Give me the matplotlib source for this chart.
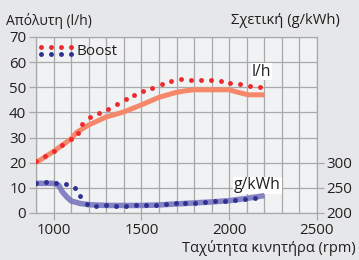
import numpy as np
import matplotlib
matplotlib.use('Agg')
import matplotlib.pyplot as plt

plt.rcParams['font.family'] = ['Open Sans', 'DejaVu Sans']

# standard engine, l/h (left axis)
std_rpm = [900, 1000, 1100, 1130, 1200, 1300, 1400, 1500, 1600, 1700, 1750, 1800, 1900, 2000, 2050, 2110, 2200]
std_lh = [20, 24.5, 29.5, 32, 35, 38.2, 40.2, 43, 46, 48, 48.6, 49, 49, 49, 48, 47, 47]

# boost engine, l/h (dots)
boost_rpm = [900, 950, 1000, 1050, 1100, 1140, 1164, 1206, 1257, 1310, 1359, 1410, 1460, 1511, 1562,
             1615, 1670, 1725, 1781, 1838, 1894, 1951, 2007, 2064, 2121, 2178]
boost_lh = [20.8, 22.8, 24.8, 27, 29.3, 32, 35.4, 38.3, 39.7, 41.4, 43.4, 45.3, 46.8, 48.5, 49.8,
            51.4, 52.6, 53.2, 52.9, 52.9, 52.9, 52.5, 51.8, 51.3, 50.6, 50]

# standard engine, g/kWh (right axis)
std_sfc_rpm = [900, 1000, 1030, 1050, 1075, 1100, 1150, 1200, 1300, 1400, 1500, 1600, 1700, 1800, 1900, 2000, 2100, 2200]
std_sfc = [259, 259, 255, 242, 232, 224, 219, 216.5, 215, 215, 215, 216, 218, 220, 222, 224.5, 229, 234.5]

# boost engine, g/kWh (dots)
boost_sfc_rpm = [900, 957, 1013, 1070, 1121, 1153, 1191, 1243, 1300, 1357, 1413, 1470, 1527, 1583,
                 1640, 1696, 1749, 1806, 1862, 1919, 1975, 2032, 2089, 2145]
boost_sfc = [260.5, 261, 260, 257.5, 249, 233, 218, 213.5, 215, 214.5, 214.5, 215, 215, 215,
             218, 220.5, 219, 220.5, 222.5, 224, 224.5, 225, 228.5, 230.5]

txt = '#231f20'

fig = plt.figure(figsize=(3.59, 2.60), dpi=100)
fig.patch.set_facecolor('#e6e7e9')
ax = fig.add_axes([0.1003, 0.1808, 0.7827, 0.6769])
ax.set_facecolor('#f1f2f4')
ax2 = ax.twinx()

gridc = '#a9a9a9'
ax.set_xlim(900, 2500)
ax.set_ylim(0, 70)
ax.set_xticks([1000, 1500, 2000, 2500])
ax.set_xticks(np.arange(900, 2501, 100), minor=True)
ax.set_yticks(np.arange(0, 71, 10))
ax.grid(True, which='both', axis='x', color=gridc, lw=0.9)
ax.grid(True, which='major', axis='y', color=gridc, lw=0.9)
ax.set_axisbelow(True)
ax.tick_params(which='minor', length=0)
ax.tick_params(which='major', length=5, width=0.9, color=gridc, labelsize=10.8,
               labelcolor=txt, pad=2)
for s in ax.spines.values():
    s.set_color(gridc)
    s.set_linewidth(0.9)

ax2.set_ylim(200, 550)
ax2.set_yticks([200, 250, 300])
ax2.tick_params(length=5, width=0.9, color=gridc, labelsize=10.8, labelcolor=txt, pad=2)
for s in ax2.spines.values():
    s.set_visible(False)

# lines
ax.plot(std_rpm, std_lh, color='#f5876a', lw=3.6, solid_capstyle='butt', zorder=3)
ax.plot(boost_rpm, boost_lh, 'o', color='#ee2a2e', ms=3.5, mew=0, zorder=4)
ax2.plot(std_sfc_rpm, std_sfc, color='#7470bd', lw=4.0, alpha=0.85, solid_capstyle='butt', zorder=3)
ax2.plot(boost_sfc_rpm, boost_sfc, 'o', color='#2e3192', ms=3.5, mew=0, zorder=4)

# legend (manual)
leg_x = [0.018, 0.053, 0.089, 0.125]
ax.plot(leg_x, [0.941] * 4, 'o', color='#ee2a2e', ms=3.5, mew=0,
        transform=ax.transAxes, clip_on=False)
ax.plot(leg_x, [0.902] * 4, 'o', color='#2e3192', ms=3.5, mew=0,
        transform=ax.transAxes, clip_on=False)
ax.text(0.143, 0.92, 'Boost', transform=ax.transAxes, fontsize=11, va='center',
        ha='left', color=txt)

bb = dict(boxstyle='square,pad=0.05', fc='white', ec='none')
ax.text(2183, 56.2, 'l/h', fontsize=11.3, ha='center', va='center', color=txt, bbox=bb, zorder=5)
ax.text(2160, 11, 'g/kWh', fontsize=11.3, ha='center', va='center', color=txt, bbox=bb, zorder=5)

fig.text(6 / 359, 1 - 21 / 260, 'Απόλυτη (l/h)', fontsize=10, va='center', ha='left', color=txt)
fig.text(340 / 359, 1 - 21 / 260, 'Σχετική (g/kWh)', fontsize=10.6, va='center', ha='right', color=txt)
fig.text(356 / 359, 1 - 248 / 260, 'Ταχύτητα κινητήρα (rpm)', fontsize=10.5, va='center', ha='right',
         color=txt)

fig.savefig('out.png', dpi=100, facecolor=fig.get_facecolor())
